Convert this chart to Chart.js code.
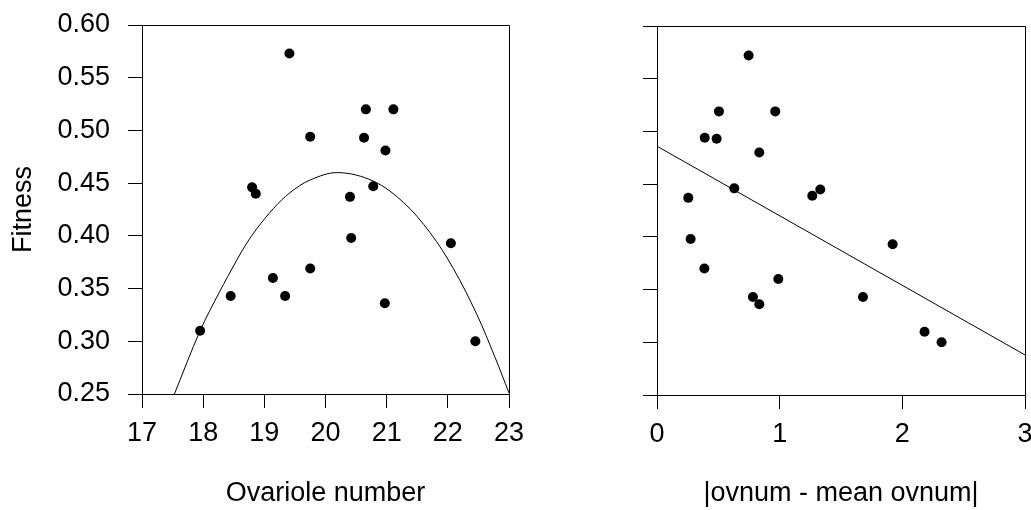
<!DOCTYPE html>
<html>
<head>
<meta charset="utf-8">
<script src="https://cdn.jsdelivr.net/npm/chart.js@4/dist/chart.umd.min.js"></script>
<style>
  html, body { margin: 0; padding: 0; background: #fff; }
  body { width: 1031px; height: 510px; position: relative; overflow: hidden; }
  .panel { position: absolute; top: 0; height: 510px; }
  #left-wrap { left: 0; width: 530px; }
  #right-wrap { left: 530px; width: 501px; }
</style>
</head>
<body>
<div class="panel" id="left-wrap"><canvas id="left_chart"></canvas></div>
<div class="panel" id="right-wrap"><canvas id="right_chart"></canvas></div>
<script>
// values
const ovarioleNumber = [19.41, 20.66, 21.11, 19.75, 20.63, 20.98, 18.80, 18.86, 20.78, 20.40,
                        20.42, 22.05, 19.75, 19.14, 18.45, 19.34, 20.97, 17.95, 22.45];
const fitnessLeft    = [0.573, 0.520, 0.520, 0.494, 0.493, 0.481, 0.446, 0.440, 0.447, 0.437,
                        0.398, 0.393, 0.369, 0.360, 0.343, 0.343, 0.336, 0.310, 0.300];

const ovnumDeviation = [0.747, 0.505, 0.964, 0.389, 0.486, 0.834, 0.630, 1.266, 1.331, 0.255,
                        0.274, 1.921, 0.386, 0.989, 0.782, 0.834, 1.679, 2.181, 2.320];
const fitnessRight   = [0.572, 0.519, 0.519, 0.494, 0.493, 0.480, 0.446, 0.439, 0.445, 0.437,
                        0.398, 0.393, 0.370, 0.360, 0.343, 0.336, 0.343, 0.310, 0.300];

// quadratic fit curve
const curveX = [17.53, 17.95, 18.26, 18.55, 18.70, 18.88, 19.15, 19.42, 19.75, 20.20,
                20.78, 21.27, 21.71, 22.09, 22.47, 22.77, 23.00];
const curveY = [0.250, 0.310, 0.346, 0.377, 0.392, 0.407, 0.426, 0.441, 0.453, 0.460,
                0.452, 0.432, 0.403, 0.369, 0.326, 0.285, 0.251];

// linear fit, end points
const fitLineX = [0, 3];
const fitLineY = [0.486, 0.288];

const fitnessTicks = ['0.25', '0.30', '0.35', '0.40', '0.45', '0.50', '0.55', '0.60'];

const FONT = "'Liberation Sans', Arial, sans-serif";
const toPoints = (xs, ys) => xs.map((x, i) => ({ x: x, y: ys[i] }));

// draws the top and right edges of the plot box
const boxPlugin = {
  id: 'box',
  afterDraw(chart) {
    const a = chart.chartArea;
    const ctx = chart.ctx;
    ctx.save();
    ctx.strokeStyle = '#000';
    ctx.lineWidth = 1;
    ctx.beginPath();
    ctx.moveTo(a.left, a.top + 0.5);
    ctx.lineTo(a.right + 0.5, a.top + 0.5);
    ctx.lineTo(a.right + 0.5, a.bottom);
    ctx.stroke();
    ctx.restore();
  }
};

function makeOptions(cfg) {
  return {
    responsive: false,
    animation: false,
    layout: { padding: cfg.padding },
    plugins: { legend: { display: false }, tooltip: { enabled: false } },
    scales: {
      x: {
        type: 'linear',
        min: cfg.xMin,
        max: cfg.xMax,
        afterFit: s => {
          s.height = cfg.xHeight;
          s.paddingLeft = 0; s.paddingRight = 0;
        },
        ticks: {
          stepSize: 1,
          padding: 9,
          color: '#000',
          font: { family: FONT, size: 27 },
          callback: v => String(v)
        },
        grid: { drawOnChartArea: false, drawTicks: true, tickLength: 14, color: '#000', lineWidth: 1 },
        border: { display: true, color: '#000', width: 1 },
        title: {
          display: true,
          text: cfg.xTitle,
          color: '#000',
          font: { family: FONT, size: 27 },
          padding: { top: 0, bottom: 0 }
        }
      },
      y: {
        type: 'linear',
        min: 0.25,
        max: 0.60,
        afterFit: s => {
          s.width = cfg.yWidth;
          s.paddingTop = 0; s.paddingBottom = 0;
        },
        afterBuildTicks: s => { s.ticks = fitnessTicks.map(t => ({ value: parseFloat(t) })); },
        ticks: {
          display: cfg.yLabels,
          padding: 18,
          color: '#000',
          font: { family: FONT, size: 27 },
          callback: v => v.toFixed(2)
        },
        grid: { drawOnChartArea: false, drawTicks: true, tickLength: 14, color: '#000', lineWidth: 1 },
        border: { display: true, color: '#000', width: 1 },
        title: {
          display: cfg.yTitle !== '',
          text: cfg.yTitle,
          color: '#000',
          font: { family: FONT, size: 27 },
          padding: { top: 7, bottom: 0 }
        }
      }
    }
  };
}

function setupCanvas(id, w, h) {
  const c = document.getElementById(id);
  c.width = w; c.height = h;
  c.style.width = w + 'px'; c.style.height = h + 'px';
  return c;
}

const leftChart = new Chart(setupCanvas('left_chart', 530, 510), {
  type: 'scatter',
  data: {
    datasets: [
      {
        data: toPoints(ovarioleNumber, fitnessLeft),
        pointRadius: 5,
        pointBackgroundColor: '#000',
        pointBorderWidth: 0
      },
      {
        data: toPoints(curveX, curveY),
        showLine: true,
        tension: 0.35,
        borderColor: '#000',
        borderWidth: 1,
        pointRadius: 0,
        fill: false
      }
    ]
  },
  options: makeOptions({
    padding: { top: 25, right: 21, left: 0, bottom: 0 },
    xMin: 17, xMax: 23, xHeight: 116, yWidth: 142,
    xTitle: 'Ovariole number', yTitle: 'Fitness', yLabels: true
  }),
  plugins: [boxPlugin]
});

const rightChart = new Chart(setupCanvas('right_chart', 501, 510), {
  type: 'scatter',
  data: {
    datasets: [
      {
        data: toPoints(ovnumDeviation, fitnessRight),
        pointRadius: 5,
        pointBackgroundColor: '#000',
        pointBorderWidth: 0
      },
      {
        data: toPoints(fitLineX, fitLineY),
        showLine: true,
        borderColor: '#000',
        borderWidth: 1,
        pointRadius: 0,
        fill: false
      }
    ]
  },
  options: makeOptions({
    padding: { top: 26, right: 6, left: 0, bottom: 0 },
    xMin: 0, xMax: 3, xHeight: 115, yWidth: 127,
    xTitle: '|ovnum - mean ovnum|', yTitle: '', yLabels: false
  }),
  plugins: [boxPlugin]
});
</script>
</body>
</html>
